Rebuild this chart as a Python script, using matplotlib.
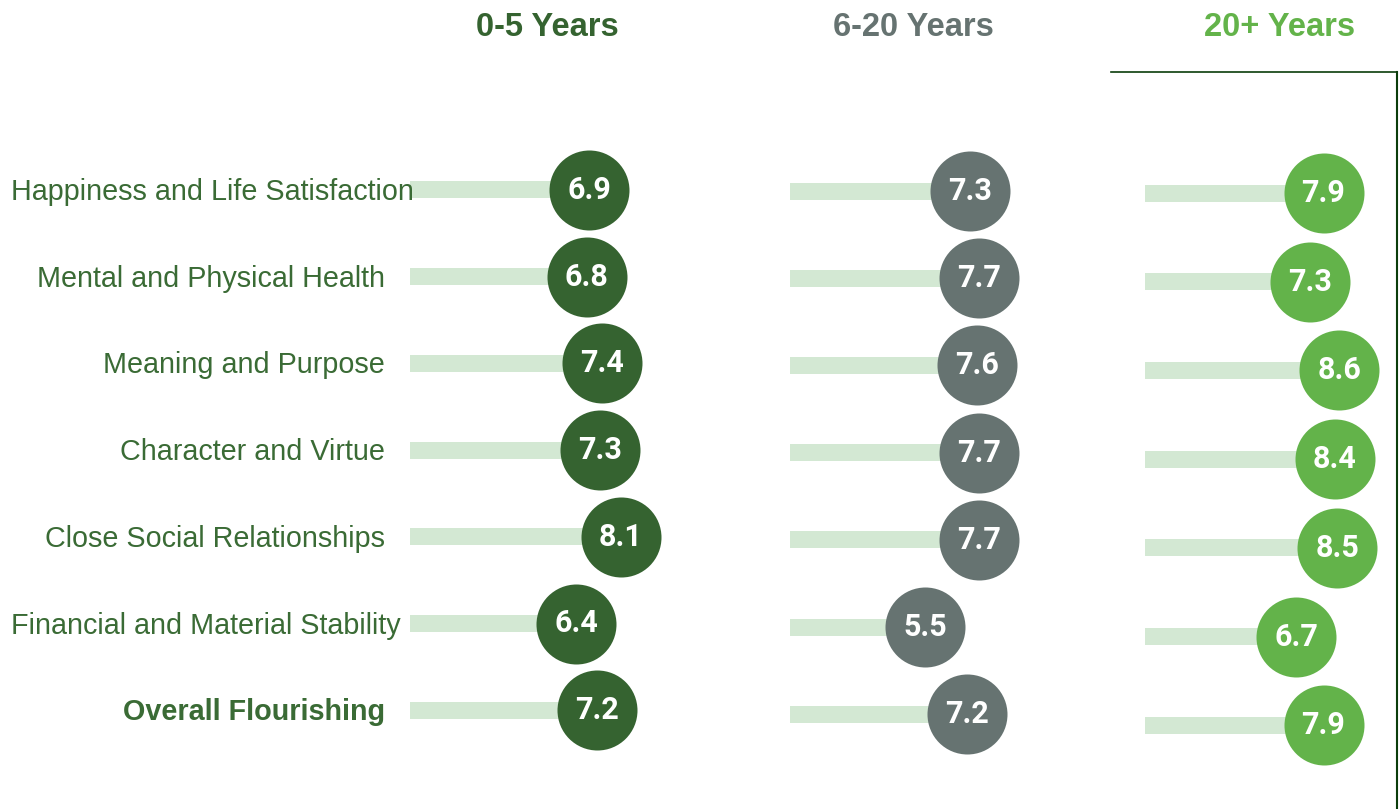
import matplotlib.pyplot as plt
from matplotlib.lines import Line2D

# data
categorias = ['Happiness and Life Satisfaction', 'Mental and Physical Health',
              'Meaning and Purpose', 'Character and Virtue',
              'Close Social Relationships', 'Financial and Material Stability',
              'Overall Flourishing']
grupos = ['0-5 Years', '6-20 Years', '20+ Years']
anos_0_5 = [6.9, 6.8, 7.4, 7.3, 8.1, 6.4, 7.2]
anos_6_20 = [7.3, 7.7, 7.6, 7.7, 7.7, 5.5, 7.2]
anos_20_mais = [7.9, 7.3, 8.6, 8.4, 8.5, 6.7, 7.9]

cores = ['#356330', '#667371', '#63b34a']
cor_barra = '#d3e8d3'
cor_texto = '#3a6b35'

W, H = 1400, 809
fig = plt.figure(figsize=(W / 100, H / 100), dpi=100)

# (left px, width px, px per unit, first row y px, row spacing px, title x px)
paineis = [(410, 290, 26.0, 190, 86.7, 547),
           (790, 290, 24.6, 191, 87.2, 913),
           (1145, 250, 22.6, 193, 88.7, 1280)]
series = [anos_0_5, anos_6_20, anos_20_mais]

for (x0, w, esc, topo, passo, tx), vals, cor, nome in zip(paineis, series, cores, grupos):
    ax = fig.add_axes([x0 / W, 0, w / W, 1])
    ax.set_xlim(0, w / esc)
    ax.set_ylim((H - topo) / passo, -topo / passo)
    ax.axis('off')
    linhas = list(range(len(vals)))
    ax.barh(linhas, vals, height=17 / passo, color=cor_barra, zorder=1)
    ax.scatter(vals, linhas, s=3318, color=cor, zorder=2, clip_on=False, linewidths=0)
    for i, v in enumerate(vals):
        ax.text(v, i, f'{v:.1f}', ha='center', va='center', color='white',
                fontsize=22, fontweight='bold', family='Roboto', zorder=3)
    fig.text(tx / W, 1 - 28 / H, nome, ha='center', va='center', color=cor,
             fontsize=23.5, fontweight='bold', family='Liberation Sans')

# labels on the left, rows taken from first panel
x0, w, esc, topo, passo, tx = paineis[0]
rotulos = []
for i, cat in enumerate(categorias):
    peso = 'bold' if cat == 'Overall Flourishing' else 'normal'
    t = fig.text(385 / W, 1 - (topo + 2 + i * passo) / H, cat, ha='right', va='center',
                 color=cor_texto, fontsize=20.7, fontweight=peso, family='Liberation Sans')
    rotulos.append(t)

fig.canvas.draw()
r = fig.canvas.get_renderer()
for t in rotulos:
    if t.get_window_extent(r).x0 < 11:
        t.set_x(11 / W)
        t.set_ha('left')

# frame around the last panel
fig.add_artist(Line2D([1111 / W, 1397 / W], [1 - 72 / H, 1 - 72 / H], color='#0b3d0b', lw=1.2))
fig.add_artist(Line2D([1397 / W, 1397 / W], [1 - 72 / H, 0], color='#0b3d0b', lw=1.5))

plt.savefig('out.png', dpi=100)
